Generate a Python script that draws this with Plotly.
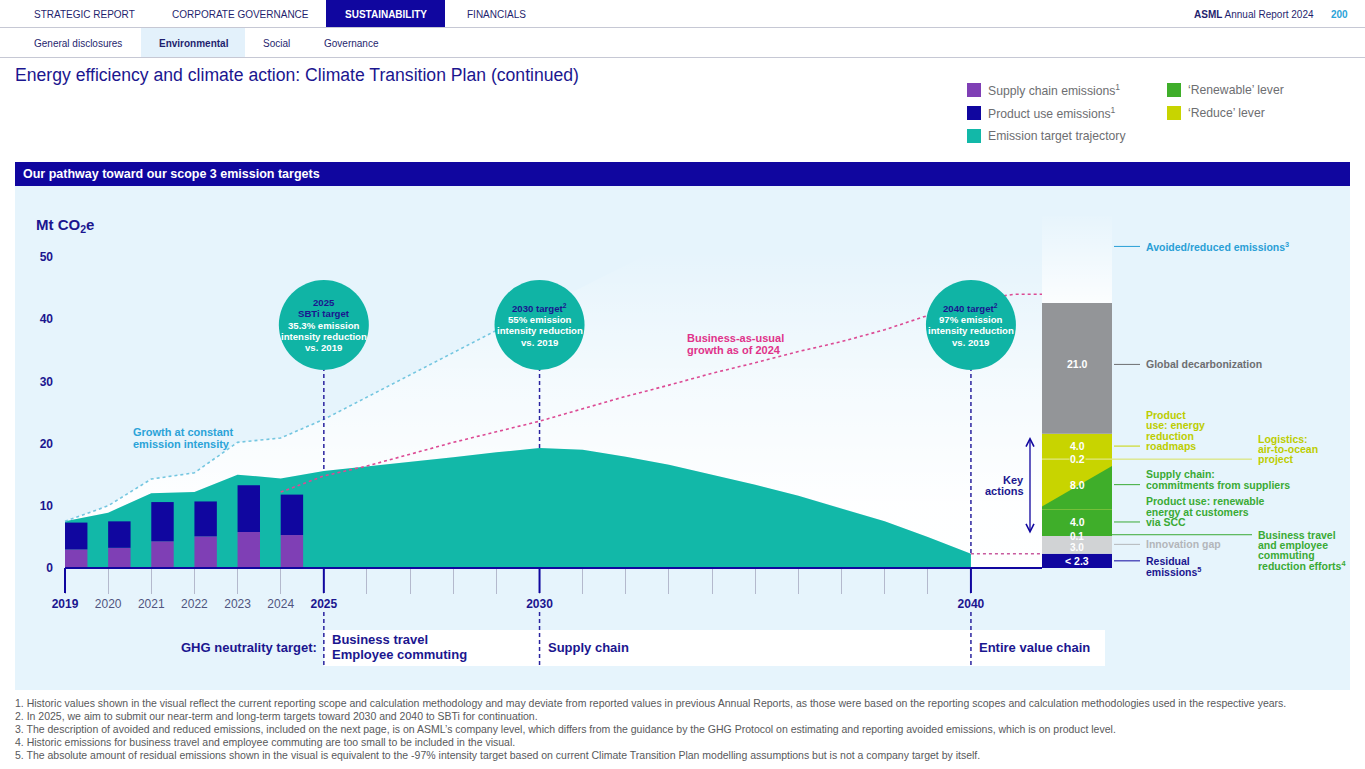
import plotly.graph_objects as go
import numpy as np

W, H = 1365, 769
FONT = "Liberation Sans"

# ---------------- data ----------------
HIST_YEARS = [2019, 2020, 2021, 2022, 2023, 2024]
SUPPLY_CHAIN = [3.0, 3.25, 4.3, 5.1, 5.8, 5.3]
PRODUCT_USE = [4.3, 4.25, 6.3, 5.6, 7.5, 6.5]

TRAJ_YEARS = list(range(2019, 2041))
TRAJ_VALUES = [7.5, 8.9, 12.0, 12.2, 15.0, 14.4, 15.6, 16.3, 17.1, 17.8, 18.6,
               19.3, 19.0, 17.9, 16.6, 15.0, 13.4, 11.6, 9.6, 7.5, 5.0, 2.3]

CONST_YEARS = list(range(2019, 2031))
CONST_VALUES = [7.5, 10.0, 14.3, 15.3, 20.2, 20.9, 23.9, 27.5, 31.0, 34.6, 38.2, 41.7]

BAU_YEARS = list(range(2024, 2042))
BAU_VALUES = [12.2, 14.8, 16.4, 18.3, 20.2, 21.9, 23.6, 25.6, 27.6, 29.4, 31.3,
              33.0, 34.8, 36.4, 38.3, 40.6, 43.0, 44.0]

STACK_NAMES = ["Residual emissions", "Innovation gap", "Business travel and employee commuting",
               "Product use: renewable energy at customers", "Supply chain: commitments from suppliers",
               "Logistics: air-to-ocean project", "Product use: energy reduction roadmaps",
               "Global decarbonization", "Avoided/reduced emissions"]
STACK_VALUES = [2.3, 3.0, 0.1, 4.0, 8.0, 0.2, 4.0, 21.0, 14.0]
STACK_TEXT = ["&lt; 2.3", "3.0", "0.1", "4.0", "8.0", "0.2", "4.0", "21.0", ""]

Y_TICKS = [0, 10, 20, 30, 40, 50]
TICK_YEARS = list(range(2019, 2041))
BOLD_YEARS = [2019, 2025, 2030, 2040]
PLAIN_YEARS = [2020, 2021, 2022, 2023, 2024]
MAJOR_YEARS = [2019, 2025, 2030, 2040]

TARGET_YEARS = [2025, 2030, 2040]
TARGET_HEAD = [["2025", "SBTi target"], ["2030 target<sup>2</sup>"], ["2040 target<sup>2</sup>"]]
TARGET_BODY = [["35.3% emission", "intensity reduction", "vs. 2019"],
               ["55% emission", "intensity reduction", "vs. 2019"],
               ["97% emission", "intensity reduction", "vs. 2019"]]
GHG_YEARS = [2025, 2030, 2040]
GHG_SCOPES = [["Business travel", "Employee commuting"], ["Supply chain"], ["Entire value chain"]]

FOOTNOTES = [
    "1. Historic values shown in the visual reflect the current reporting scope and calculation methodology and may deviate from reported values in previous Annual Reports, as those were based on the reporting scopes and calculation methodologies used in the respective years.",
    "2. In 2025, we aim to submit our near-term and long-term targets toward 2030 and 2040 to SBTi for continuation.",
    "3. The description of avoided and reduced emissions, included on the next page, is on ASML\u2019s company level, which differs from the guidance by the GHG Protocol on estimating and reporting avoided emissions, which is on product level.",
    "4. Historic emissions for business travel and employee commuting are too small to be included in the visual.",
    "5. The absolute amount of residual emissions shown in the visual is equivalent to the -97% intensity target based on current Climate Transition Plan modelling assumptions but is not a company target by itself.",
]

# ---------------- colours ----------------
NAVY = "#10069f"
NAVY_T = "#1b168f"
PURPLE = "#7f3fb5"
TEAL = "#12b8a8"
TEAL_C = "#10b4a5"
GREEN = "#3fae2a"
YELLOW = "#c8d400"
GRAY = "#939598"
LIGHTGRAY = "#d1d3d5"
BG = "#e6f4fc"
AVOID_C = "#2a9fd6"
GLOBAL_C = "#6d6e71"
YEL_TXT = "#bccd00"
GRN_TXT = "#3aaa35"
INNOV_C = "#b3b6ba"
PINK = "#e0338a"
CYAN_TXT = "#2ba3d8"
STACK_COLORS = [NAVY, LIGHTGRAY, GREEN, GREEN, YELLOW, "#dde56c", YELLOW, GRAY, "white"]

# ---------------- geometry (pixel layout) ----------------
X0_PX, PX_YR = 65.0, 43.14
Y0_PX, PX_MT = 568.0, 6.22
X_MIN = 2019 - (X0_PX - 15) / PX_YR
X_MAX = 2019 + (1350 - X0_PX) / PX_YR
Y_MIN = -(690 - Y0_PX) / PX_MT
Y_MAX = (Y0_PX - 186) / PX_MT
BAR_LEFT = 2019 + (1042 - X0_PX) / PX_YR
BAR_W = 70 / PX_YR
BAR_X = BAR_LEFT + BAR_W / 2
HIST_W = 0.52
CIRCLE_LEVEL = (Y0_PX - 325) / PX_MT


def PX(x):
    return x / W


def PY(y):
    return 1 - y / H


def v_px(px):
    return (Y0_PX - px) / PX_MT


fig = go.Figure()

# white gradient region above trajectory (left edge follows the constant-intensity line)
top = Y_MAX
slope = CONST_VALUES[-1] - CONST_VALUES[-2]
x_top = CONST_YEARS[-1] + (top - CONST_VALUES[-1]) / slope
poly_x = CONST_YEARS + [x_top, BAR_LEFT, BAR_LEFT, TRAJ_YEARS[-1]] + TRAJ_YEARS[::-1]
poly_y = CONST_VALUES + [top, top, 0, 0] + TRAJ_VALUES[::-1]
fig.add_trace(go.Scatter(
    x=poly_x, y=poly_y, mode="lines", fill="toself", line=dict(width=0),
    fillgradient=dict(type="vertical",
                      colorscale=[[0, "rgba(255,255,255,0.97)"], [0.45, "rgba(255,255,255,0.6)"],
                                  [1, "rgba(255,255,255,0)"]],
                      start=10, stop=51),
    hoverinfo="skip", showlegend=False))

# emission target trajectory
fig.add_trace(go.Scatter(
    x=TRAJ_YEARS, y=TRAJ_VALUES, mode="lines", fill="tozeroy", fillcolor=TEAL,
    line=dict(color=TEAL, width=0), hoverinfo="skip", showlegend=False))

# historic stacked bars (overlay subplot so they sit above the area)
bx = [y + HIST_W / 2 for y in HIST_YEARS]
fig.add_trace(go.Bar(x=bx, y=SUPPLY_CHAIN, width=HIST_W, marker=dict(color=PURPLE, line=dict(width=0)),
                     xaxis="x2", yaxis="y2", name="Supply chain emissions", showlegend=False))
fig.add_trace(go.Bar(x=bx, y=PRODUCT_USE, base=SUPPLY_CHAIN, width=HIST_W,
                     marker=dict(color=NAVY, line=dict(width=0)),
                     xaxis="x2", yaxis="y2", name="Product use emissions", showlegend=False))

# right stacked bar
vals = np.array(STACK_VALUES)
bases = np.concatenate([[0.0], np.cumsum(vals)[:-1]])
for i in range(len(vals) - 1):
    fig.add_trace(go.Bar(x=[BAR_X], y=[vals[i]], base=[bases[i]], width=BAR_W,
                         marker=dict(color=STACK_COLORS[i], line=dict(width=0)),
                         xaxis="x2", yaxis="y2", name=STACK_NAMES[i], showlegend=False))

# dotted lines
fig.add_trace(go.Scatter(x=CONST_YEARS, y=CONST_VALUES, mode="lines",
                         line=dict(color="#74c6e0", width=1.6, dash="dot"),
                         xaxis="x2", yaxis="y2", hoverinfo="skip", showlegend=False))
fig.add_trace(go.Scatter(x=BAU_YEARS + [BAR_LEFT], y=BAU_VALUES + [BAU_VALUES[-1]], mode="lines",
                         line=dict(color="#dc4a94", width=1.6, dash="dot"),
                         xaxis="x2", yaxis="y2", hoverinfo="skip", showlegend=False))
fig.add_trace(go.Scatter(x=[TRAJ_YEARS[-1], BAR_LEFT], y=[TRAJ_VALUES[-1]] * 2, mode="lines",
                         line=dict(color="#c85a9e", width=1.6, dash="dot"),
                         xaxis="x2", yaxis="y2", hoverinfo="skip", showlegend=False))

# split of the 8.0 segment (renewable part in green)
b4, v4 = bases[4], vals[4]
x0b, x1b = BAR_LEFT, BAR_LEFT + BAR_W
fig.add_trace(go.Scatter(x=[x0b, x1b, x1b, x0b, x0b], y=[b4, b4, b4 + 0.875 * v4, b4 + 0.06 * v4, b4],
                         mode="lines", fill="toself", fillcolor=GREEN, line=dict(width=0),
                         xaxis="x2", yaxis="y2", hoverinfo="skip", showlegend=False))
# avoided / reduced emissions (fading)
b8, v8 = bases[8], vals[8]
fig.add_trace(go.Scatter(x=[x0b, x1b, x1b, x0b, x0b], y=[b8, b8, b8 + v8, b8 + v8, b8],
                         mode="lines", fill="toself", line=dict(width=0),
                         fillgradient=dict(type="vertical",
                                           colorscale=[[0, "rgba(255,255,255,0.85)"], [1, "rgba(255,255,255,0.05)"]],
                                           start=b8, stop=b8 + v8),
                         xaxis="x2", yaxis="y2", hoverinfo="skip", showlegend=False))

shapes = []
ann = []


def text(t, x, y, size=10, color=NAVY, bold=False, xanchor="left", yanchor="middle",
         xref="paper", yref="paper", yshift=0, xshift=0, bgcolor=None, family=FONT):
    if bold:
        t = "<b>" + t + "</b>"
    d = dict(text=t, x=x, y=y, xref=xref, yref=yref, showarrow=False, xanchor=xanchor, yanchor=yanchor,
             yshift=yshift, xshift=xshift, font=dict(family=family, size=size, color=color))
    if bgcolor:
        d["bgcolor"] = bgcolor
        d["borderpad"] = 0
    ann.append(d)


def rect(x0, y0, x1, y1, color, layer="below"):
    shapes.append(dict(type="rect", xref="paper", yref="paper", x0=PX(x0), x1=PX(x1), y0=PY(y1), y1=PY(y0),
                       fillcolor=color, line=dict(width=0), layer=layer))


def hline(x0, x1, y, color, width=1):
    shapes.append(dict(type="line", xref="paper", yref="paper", x0=PX(x0), x1=PX(x1), y0=PY(y), y1=PY(y),
                       line=dict(color=color, width=width), layer="below"))


# ---------------- header ----------------
NAV_C = "#1f1f6e"
rect(326, 0, 445, 27, NAVY)
hline(0, W, 27.5, "#c6c8d4")
text("STRATEGIC REPORT", PX(32), PY(14), 10, NAV_C)
text("CORPORATE GOVERNANCE", PX(170), PY(14), 10, NAV_C)
text("SUSTAINABILITY", PX(343), PY(14), 10, "white", bold=True)
text("FINANCIALS", PX(465), PY(14), 10, NAV_C)
text("<b>ASML</b> Annual Report 2024", PX(1316), PY(14), 10, NAV_C, xanchor="right")
text("200", PX(1350), PY(14), 10, CYAN_TXT, bold=True, xanchor="right")
rect(141, 28, 245, 57, "#e3f1fb")
hline(0, W, 57.5, "#c6c8d4")
text("General disclosures", PX(32), PY(43), 10, NAV_C)
text("Environmental", PX(157), PY(43), 10, NAV_C, bold=True)
text("Social", PX(261), PY(43), 10, NAV_C)
text("Governance", PX(322), PY(43), 10, NAV_C)
text("Energy efficiency and climate action: Climate Transition Plan (continued)", PX(13), PY(75), 17.6, NAVY_T)

# legend
LEGEND = [("Supply chain emissions<sup>1</sup>", PURPLE, 967, 90),
          ("Product use emissions<sup>1</sup>", NAVY, 967, 113),
          ("Emission target trajectory", TEAL, 967, 136),
          ("\u2018Renewable\u2019 lever", GREEN, 1167, 90),
          ("\u2018Reduce\u2019 lever", YELLOW, 1167, 113)]
for lab, col, lx, ly in LEGEND:
    rect(lx, ly - 7, lx + 14, ly + 7, col)
    text(lab, PX(lx + 19), PY(ly), 12.2, GLOBAL_C)

# panel
rect(15, 162, 1350, 186, NAVY)
text("Our pathway toward our scope 3 emission targets", PX(21), PY(174), 12.5, "white", bold=True)
rect(15, 186, 1350, 690, BG)
rect(324, 630, 1105, 666, "white")

# ---------------- chart decorations ----------------
text("Mt CO<sub>2</sub>e", PX(34), PY(225), 15, NAVY_T, bold=True)

traj_lookup = dict(zip(TRAJ_YEARS, TRAJ_VALUES))
DASH = "4px,3px"
for i, yr in enumerate(TARGET_YEARS):
    shapes.append(dict(type="line", xref="x", yref="y", x0=yr, x1=yr, y0=CIRCLE_LEVEL, y1=traj_lookup[yr],
                       line=dict(color="#2a239f", width=1.5, dash=DASH), layer="above"))
    shapes.append(dict(type="circle", xref="x", yref="y", xsizemode="pixel", ysizemode="pixel",
                       xanchor=yr, yanchor=CIRCLE_LEVEL, x0=-45, x1=45, y0=-45, y1=45,
                       fillcolor=TEAL_C, line=dict(width=0), layer="above"))
    lines = [(t, NAVY_T) for t in TARGET_HEAD[i]] + [(t, "white") for t in TARGET_BODY[i]]
    n = len(lines)
    for k, (t, c) in enumerate(lines):
        text(t, yr, CIRCLE_LEVEL, 9.6, c, bold=True, xanchor="center", xref="x", yref="y",
             yshift=-(k - (n - 1) / 2) * 11.4)

for j, yr in enumerate(GHG_YEARS):
    shapes.append(dict(type="line", xref="x", yref="y", x0=yr, x1=yr, y0=v_px(612), y1=v_px(668),
                       line=dict(color="#2a239f", width=1.5, dash=DASH), layer="above"))
    sc = GHG_SCOPES[j]
    for k, t in enumerate(sc):
        text(t, yr, v_px(647), 13, NAVY_T, bold=True, xanchor="left", xref="x", yref="y",
             xshift=6, yshift=-(k - (len(sc) - 1) / 2) * 15)
text("GHG neutrality target:", PX(319), PY(647), 13, NAVY_T, bold=True, xanchor="right")

# axis line and major ticks
shapes.append(dict(type="line", xref="x", yref="y", x0=TICK_YEARS[0], x1=BAR_LEFT, y0=0, y1=0,
                   line=dict(color=NAVY, width=2), layer="above"))
for yr in MAJOR_YEARS:
    shapes.append(dict(type="line", xref="x", yref="y", x0=yr, x1=yr, y0=0, y1=-25 / PX_MT,
                       line=dict(color=NAVY, width=2), layer="above"))

text("Growth at constant", PX(131), PY(432), 11, CYAN_TXT, bold=True)
text("emission intensity", PX(131), PY(444), 11, CYAN_TXT, bold=True)
text("Business-as-usual", PX(685), PY(338), 11, PINK, bold=True)
text("growth as of 2024", PX(685), PY(350), 11, PINK, bold=True)

# key actions arrow
ann.append(dict(x=PX(1030), y=PY(437), xref="paper", yref="paper", ax=0, ay=98, axref="pixel", ayref="pixel",
                showarrow=True, arrowhead=5, startarrowhead=5, arrowside="end+start", arrowsize=1.2,
                arrowwidth=1.3, arrowcolor=NAVY, text=""))
text("Key", PX(1026), PY(480), 11, NAVY_T, bold=True, xanchor="right")
text("actions", PX(1026), PY(491), 11, NAVY_T, bold=True, xanchor="right")

# bar value labels
LABEL_FRAC = [0.5, 0.33, 0.5, 0.5, 0.5, 0.5, 0.5, 0.53, 0.65]
LABEL_SHIFT = [0, 0, -2, 0, 0, 0, 0, 0, 0]
lab_v = [bases[i] + LABEL_FRAC[i] * vals[i] for i in range(len(vals))]
for i, t in enumerate(STACK_TEXT):
    if t:
        text(t, BAR_X, lab_v[i], 10 if i in (1, 2) else 10.5, "white", bold=True, xanchor="center",
             xref="x", yref="y", yshift=LABEL_SHIFT[i], bgcolor=(YELLOW if i == 5 else None))

# right-hand labels with leader lines
RIGHT_LABELS = [
    (8, ["Avoided/reduced emissions<sup>3</sup>"], 0, 1144, 1114, 1140, AVOID_C, AVOID_C),
    (7, ["Global decarbonization"], 0, 1144, 1114, 1140, GLOBAL_C, GLOBAL_C),
    (6, ["Product", "use: energy", "reduction", "roadmaps"], 3, 1144, 1114, 1140, YEL_TXT, YELLOW),
    (5, ["Logistics:", "air-to-ocean", "project"], 2, 1256, 1042, 1252, YEL_TXT, "#d8e15c"),
    (4, ["Supply chain:", "commitments from suppliers"], 1, 1144, 1114, 1140, GRN_TXT, GRN_TXT),
    (3, ["Product use: renewable", "energy at customers", "via SCC"], 2, 1144, 1114, 1140, GRN_TXT, GRN_TXT),
    (2, ["Business travel", "and employee", "commuting", "reduction efforts<sup>4</sup>"], 0, 1256, 1112, 1252,
     GRN_TXT, GRN_TXT),
    (1, ["Innovation gap"], 0, 1144, 1114, 1140, INNOV_C, INNOV_C),
    (0, ["Residual", "emissions<sup>5</sup>"], 0, 1144, 1114, 1140, NAVY_T, NAVY),
]
for seg, lines, idx, tx, lx0, lx1, tcol, lcol in RIGHT_LABELS:
    vy = bases[seg] + (0.5 if seg != 8 and seg != 7 else LABEL_FRAC[seg]) * vals[seg]
    shapes.append(dict(type="line", xref="paper", yref="y", x0=PX(lx0), x1=PX(lx1), y0=vy, y1=vy,
                       line=dict(color=lcol, width=1), layer="above"))
    for k, t in enumerate(lines):
        text(t, PX(tx), vy, 10.5, tcol, bold=True, xanchor="left", yref="y", yshift=-(k - idx) * 10.3)

# footnotes
for i, t in enumerate(FOOTNOTES):
    text(t, PX(13), PY(703 + 13 * i), 10.5, "#58595b")

# tick labels
ticktext = []
for yr in TICK_YEARS:
    if yr in BOLD_YEARS:
        ticktext.append("<b>%d</b>" % yr)
    elif yr in PLAIN_YEARS:
        ticktext.append("<span style='color:#50557f'>%d</span>" % yr)
    else:
        ticktext.append("")

fig.update_layout(
    template="none",
    width=W, height=H, margin=dict(l=0, r=0, t=0, b=0),
    paper_bgcolor="white", plot_bgcolor="rgba(0,0,0,0)",
    showlegend=False, barmode="overlay",
    font=dict(family=FONT),
    xaxis=dict(domain=[PX(15), PX(1350)], range=[X_MIN, X_MAX], anchor="free", position=PY(Y0_PX),
               tickvals=TICK_YEARS, ticktext=ticktext, ticks="outside", ticklen=25, tickwidth=1,
               tickcolor="#b4b9cd", showgrid=False, zeroline=False, showline=False, automargin=False,
               tickfont=dict(family=FONT, size=12, color=NAVY_T), fixedrange=True),
    yaxis=dict(domain=[PY(690), PY(186)], range=[Y_MIN, Y_MAX], anchor="free", position=PX(53),
               tickvals=Y_TICKS, ticktext=["<b>%d</b>" % v for v in Y_TICKS], ticks="",
               showgrid=False, zeroline=False, showline=False, automargin=False,
               tickfont=dict(family=FONT, size=12, color=NAVY_T), fixedrange=True),
    xaxis2=dict(overlaying="x", range=[X_MIN, X_MAX], visible=False, anchor="y2", fixedrange=True),
    yaxis2=dict(overlaying="y", range=[Y_MIN, Y_MAX], visible=False, anchor="x2", fixedrange=True),
    shapes=shapes, annotations=ann,
)

fig.write_html("out.html", config={"displayModeBar": False},
               post_script="document.body.style.margin='0px';document.body.style.overflow='hidden';")
